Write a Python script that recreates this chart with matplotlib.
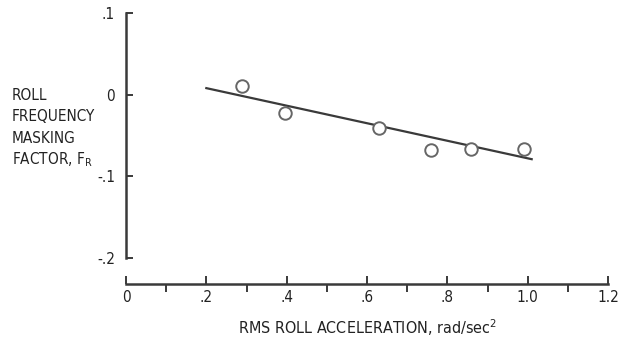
import matplotlib
matplotlib.use("Agg")
import matplotlib.pyplot as plt
import numpy as np

# data
accel = [0.29, 0.395, 0.63, 0.76, 0.86, 0.99]
masking = [0.011, -0.023, -0.041, -0.068, -0.067, -0.067]
fit_x = [0.2, 1.01]
fit_y = [0.008, -0.079]

xticks_major = [0, 0.2, 0.4, 0.6, 0.8, 1.0, 1.2]
xtick_labels = ["0", ".2", ".4", ".6", ".8", "1.0", "1.2"]
yticks = [0.1, 0, -0.1, -0.2]
ytick_labels = [".1", "0", "-.1", "-.2"]
ylab = ["ROLL", "FREQUENCY", "MASKING", "FACTOR, F$_\\mathregular{R}$"]

ink = "#3a3a3a"
plt.rcParams['font.family'] = ['DejaVu Sans']
plt.rcParams['font.stretch'] = 'condensed'

fig = plt.figure(figsize=(6.24, 3.41), dpi=100)
ax = fig.add_axes([126 / 624, 83 / 341, 482 / 624, 245 / 341])

ax.plot(fit_x, fit_y, color=ink, lw=1.6)
ax.plot(accel, masking, 'o', ms=9, mfc='white', mec='#666666', mew=1.4)

ax.set_xlim(0, 1.2)
ax.set_ylim(-0.2, 0.1)

for s in ['top', 'right']:
    ax.spines[s].set_visible(False)
ax.spines['left'].set_color(ink)
ax.spines['left'].set_linewidth(1.8)
ax.spines['bottom'].set_color(ink)
ax.spines['bottom'].set_linewidth(1.8)
ax.spines['bottom'].set_position(('outward', 19))

ax.set_xticks(xticks_major)
ax.set_xticklabels(xtick_labels)
ax.set_xticks(np.arange(1, 12, 2) / 10, minor=True)
ax.set_yticks(yticks)
ax.set_yticklabels(ytick_labels)

ax.tick_params(axis='both', direction='in', colors=ink, labelcolor='#222222',
               labelsize=11, width=1.4)
ax.tick_params(axis='x', which='both', length=6, width=1.4, pad=4, color=ink)
ax.tick_params(axis='y', length=5, pad=8)

ax.set_xlabel("RMS ROLL ACCELERATION, rad/sec$^\\mathregular{2}$",
              fontsize=11.5, color='#222222', labelpad=9)

for i, t in enumerate(ylab):
    fig.text(12 / 624, 1 - (95 + 21.7 * i) / 341, t, fontsize=11,
             color='#222222', va='center', ha='left')

fig.savefig("out.png", dpi=100)
